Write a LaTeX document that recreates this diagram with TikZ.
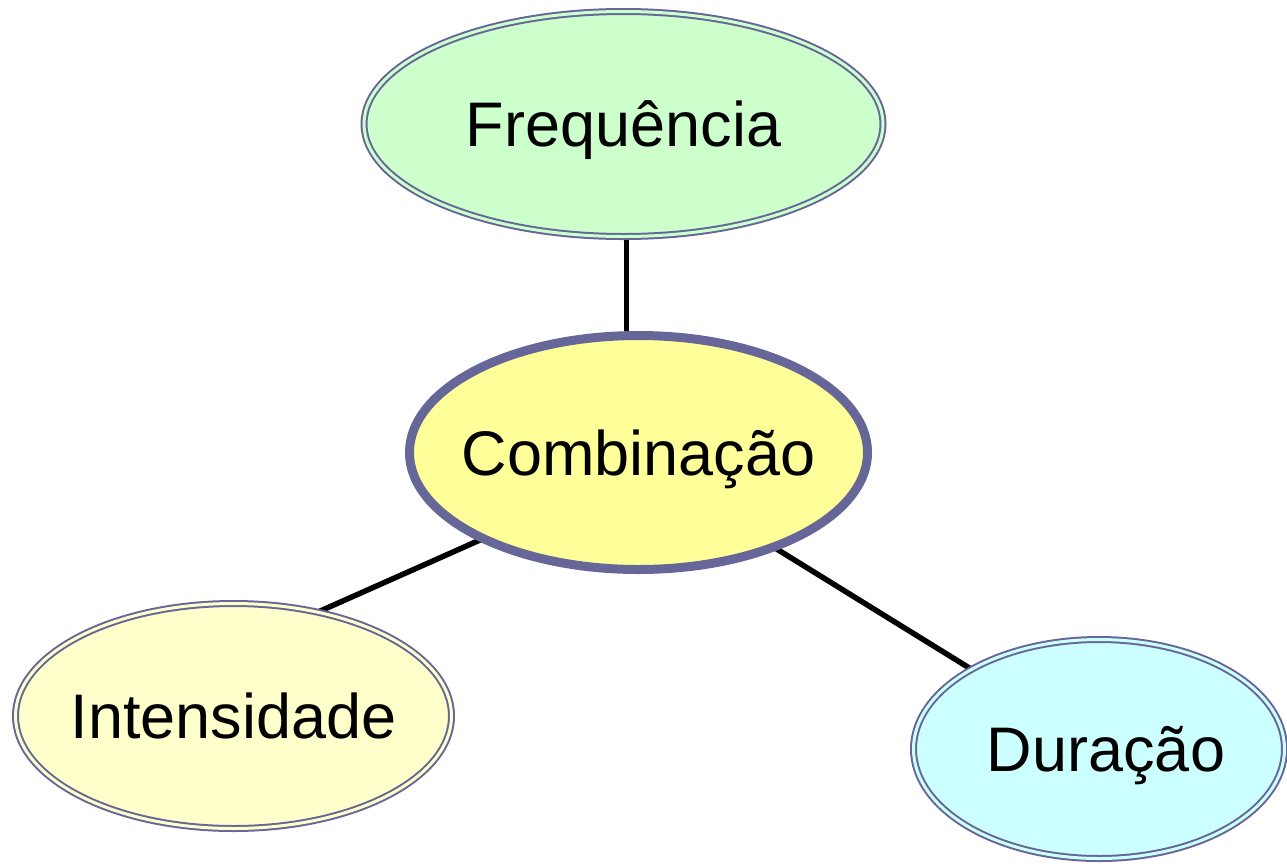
\documentclass[tikz,border=0pt]{standalone}
\usepackage{fontspec}
\setmainfont{Liberation Sans}
\usetikzlibrary{shapes.geometric}
\definecolor{bordc}{HTML}{666699}
\definecolor{fgreen}{HTML}{CCFFCC}
\definecolor{fyellow}{HTML}{FFFF99}
\definecolor{fpale}{HTML}{FFFFCC}
\definecolor{fcyan}{HTML}{CCFFFF}
\pgfdeclarelayer{bg}
\pgfsetlayers{bg,main}
\tikzset{
  bubble/.style={ellipse, inner sep=0pt, outer sep=0pt, draw=bordc, line width=2pt,
    double distance=3pt, font=\fontsize{63}{70}\selectfont},
  hub/.style={ellipse, inner sep=0pt, outer sep=0pt, draw=bordc, line width=9pt,
    font=\fontsize{63}{70}\selectfont},
  connector/.style={line width=5.5pt, draw=black}
}
\newcommand{\zw}[1]{\makebox[0pt][c]{\raisebox{0pt}[\height][0pt]{#1}}}
\begin{document}
\begin{tikzpicture}[x=1pt,y=-1pt]
\useasboundingbox (0,0) rectangle (1287,865);
\node[bubble, fill=fgreen, double=fgreen, minimum width=519pt, minimum height=225pt] (F) at (623.5,124) {\zw{Frequência}};
\node[hub, fill=fyellow, minimum width=458pt, minimum height=234pt] (C) at (638.5,452.5) {\zw{Combinação}};
\node[bubble, fill=fpale, double=fpale, minimum width=436pt, minimum height=225pt] (I) at (233.5,716) {\zw{Intensidade}};
\node[bubble, fill=fcyan, double=fcyan, minimum width=371pt, minimum height=219pt] (D) at (1099,749) {\zw{\hspace{14pt}Duração}};
\begin{pgfonlayer}{bg}
\draw[connector] ([xshift=3pt]F.south) -- ([xshift=3pt]F.south |- C.north);
\draw[connector] (C.209) -- (I.51);
\draw[connector] (C.-35) -- (D.148);
\end{pgfonlayer}
\end{tikzpicture}
\end{document}
